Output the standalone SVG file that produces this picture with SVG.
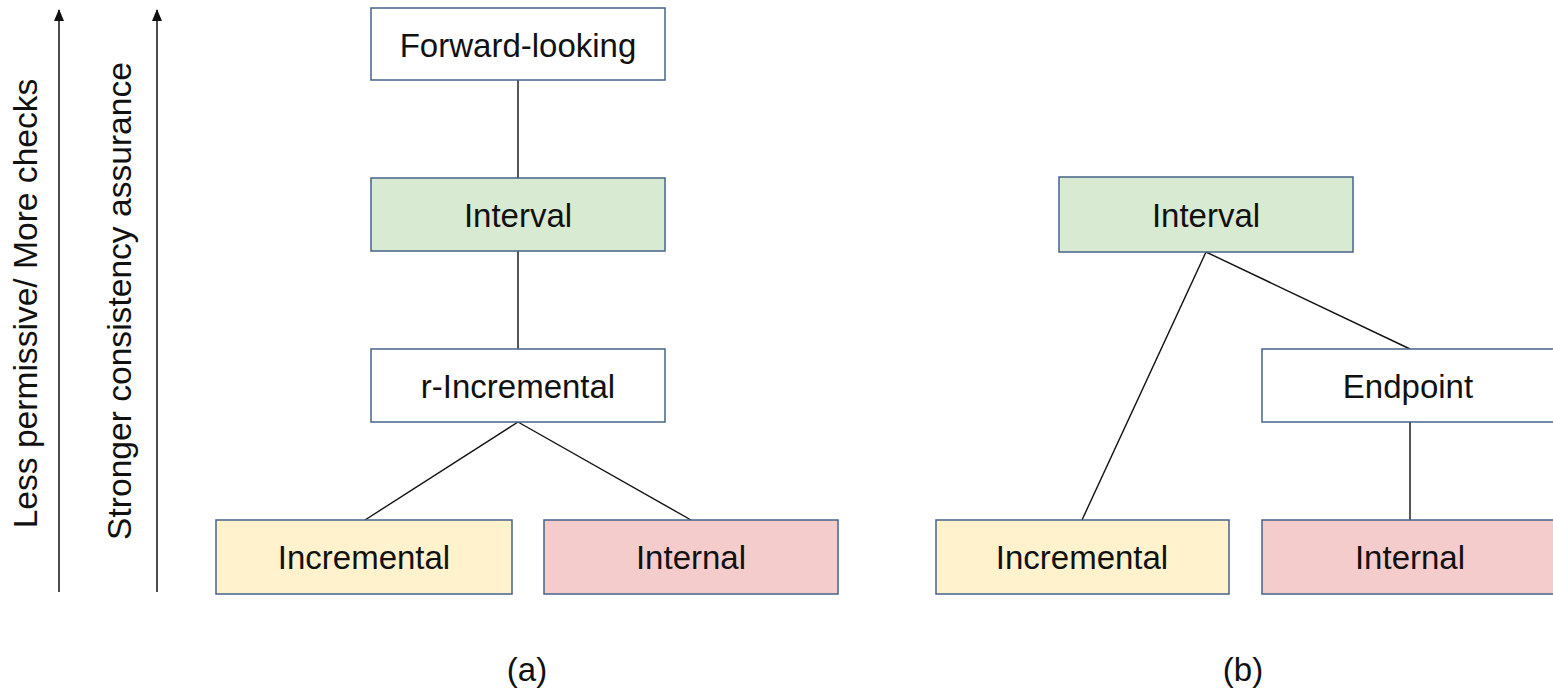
<svg xmlns="http://www.w3.org/2000/svg" width="1553" height="690" viewBox="0 0 1553 690">
  <style>
    .box { stroke: #46638a; stroke-width: 1.5; }
    .white { fill: #ffffff; }
    .green { fill: #d9ead3; }
    .yellow { fill: #fff2cc; }
    .pink { fill: #f4cccc; }
    .lbl { font-family: "Liberation Sans", Arial, sans-serif; font-size: 33px; fill: #111111; text-anchor: middle; }
    .side { font-size: 33.6px; }
    .conn line { stroke: #111111; stroke-width: 1.4; }
    .axis { stroke: #111111; stroke-width: 1.5; }
  </style>
  <defs>
    <marker id="arrow" viewBox="0 0 12 10" refX="11" refY="5" markerWidth="12" markerHeight="10" markerUnits="userSpaceOnUse" orient="auto">
      <path d="M0,0 L12,5 L0,10 z" fill="#111111"/>
    </marker>
  </defs>
  <rect width="1553" height="690" fill="#ffffff"/>

  <g id="axes">
    <line class="axis" x1="59" y1="592" x2="59" y2="10" marker-end="url(#arrow)"/>
    <line class="axis" x1="157" y1="592" x2="157" y2="10" marker-end="url(#arrow)"/>
    <text class="lbl side" transform="translate(37,303.5) rotate(-90)">Less permissive/ More checks</text>
    <text class="lbl side" transform="translate(131,301) rotate(-90)">Stronger consistency assurance</text>
  </g>

  <g class="conn" id="connectors">
    <line x1="518" y1="80" x2="518" y2="178"/>
    <line x1="518" y1="251" x2="518" y2="349"/>
    <line x1="518" y1="422" x2="365" y2="520"/>
    <line x1="518" y1="422" x2="691" y2="520"/>
    <line x1="1206" y1="252" x2="1082" y2="520"/>
    <line x1="1206" y1="252" x2="1410" y2="349"/>
    <line x1="1410" y1="422" x2="1410" y2="520"/>
  </g>

  <g id="a-forward">
    <rect class="box white" x="371" y="8" width="294" height="72"/>
    <text class="lbl" x="518" y="57">Forward-looking</text>
  </g>
  <g id="a-interval">
    <rect class="box green" x="371" y="178" width="294" height="73"/>
    <text class="lbl" x="518" y="227">Interval</text>
  </g>
  <g id="a-rincremental">
    <rect class="box white" x="371" y="349" width="294" height="73"/>
    <text class="lbl" x="518" y="398">r-Incremental</text>
  </g>
  <g id="a-incremental">
    <rect class="box yellow" x="216" y="520" width="296" height="74"/>
    <text class="lbl" x="364" y="569">Incremental</text>
  </g>
  <g id="a-internal">
    <rect class="box pink" x="544" y="520" width="294" height="74"/>
    <text class="lbl" x="691" y="569">Internal</text>
  </g>

  <g id="b-interval">
    <rect class="box green" x="1059" y="177" width="294" height="75"/>
    <text class="lbl" x="1206" y="227">Interval</text>
  </g>
  <g id="b-endpoint">
    <rect class="box white" x="1262" y="349" width="296" height="73"/>
    <text class="lbl" x="1408" y="398">Endpoint</text>
  </g>
  <g id="b-incremental">
    <rect class="box yellow" x="936" y="520" width="293" height="74"/>
    <text class="lbl" x="1082" y="569">Incremental</text>
  </g>
  <g id="b-internal">
    <rect class="box pink" x="1262" y="520" width="296" height="74"/>
    <text class="lbl" x="1410" y="569">Internal</text>
  </g>

  <g id="captions">
    <text class="lbl" x="527" y="681">(a)</text>
    <text class="lbl" x="1243" y="681">(b)</text>
  </g>
</svg>
